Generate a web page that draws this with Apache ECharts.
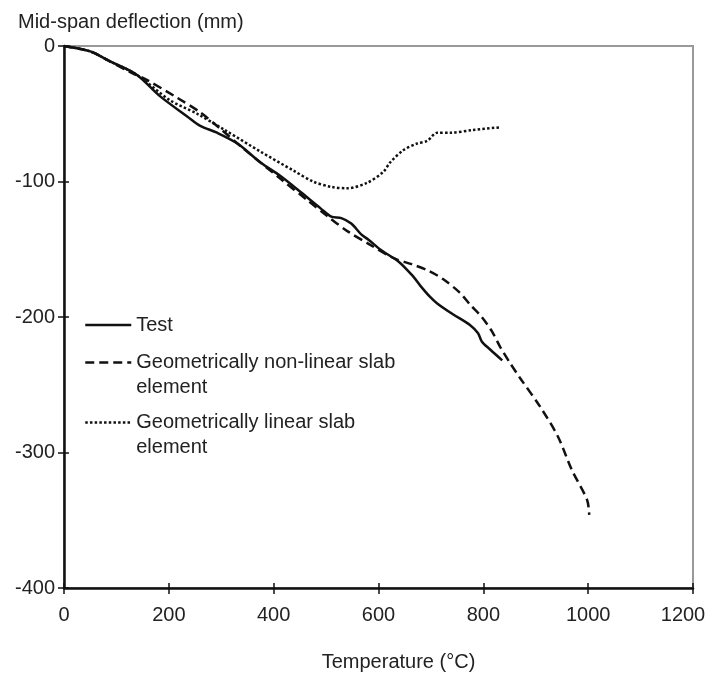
<!DOCTYPE html>
<html><head><meta charset="utf-8">
<script src="https://cdn.jsdelivr.net/npm/echarts@6/dist/echarts.min.js"></script>
<style>html,body{margin:0;padding:0;background:#fff}#c{width:709px;height:674px}</style>
</head><body><div id="c"></div>
<script>
// Data (temperature in °C, mid-span deflection in mm)
const testT = [0,50,86,138,183,235,260,292,331,375,413,452,490,510,529,548,567,581,606,638,666,680,698,712,742,775,790,797,813,836];
const testD = [0,-4,-11,-21,-37,-52,-59,-64,-72,-86,-96,-108,-120,-126,-127,-131,-139,-143,-151,-159,-170,-177,-185,-190,-198,-206,-212,-218,-224,-232];
const nonLinT = [0,50,86,130,158,215,260,298,337,413,465,504,542,581,631,663,696,723,755,775,797,817,832,851,870,908,942,969,998,1002];
const nonLinD = [0,-4,-11,-20,-25,-38,-49,-61,-74,-98,-114,-126,-137,-146,-157,-161,-166,-172,-182,-191,-200,-211,-222,-234,-245,-266,-288,-313,-335,-346];
const linT = [0,50,86,138,202,254,311,375,438,475,510,540,578,609,622,647,673,693,712,737,780,832];
const linD = [0,-4,-11,-21,-40,-50,-63,-78,-92,-100,-104,-105,-101,-93,-86,-77,-72,-70,-64,-64,-62,-60];
const xTicks = {min:0, max:1200, interval:200};
const yTicks = {min:-400, max:0, interval:100};
const names = ['Test', 'Geometrically non-linear slab\nelement', 'Geometrically linear slab\nelement'];

const zip = (a,b) => a.map((v,i)=>[v,b[i]]);
const FONT = '"Liberation Sans", Arial, Helvetica, sans-serif';
const TXT = '#222';
const chart = echarts.init(document.getElementById('c'), null, {renderer:'canvas'});

const baseX = {type:'value', min:xTicks.min, max:xTicks.max, interval:xTicks.interval, gridIndex:0};
const baseY = {type:'value', min:yTicks.min, max:yTicks.max, interval:yTicks.interval, gridIndex:0};

const legendCommon = {
  orient:'vertical', left:84, padding:0, itemWidth:46, itemHeight:14,
  lineStyle:{width:2.5},
  itemStyle:{opacity:0, color:'transparent', borderWidth:0},
  textStyle:{fontFamily:FONT, fontSize:20, color:TXT, lineHeight:25}
};
// multi-line entries: a blank first line keeps the icon level with the first text line
const firstLineAligned = n => n.indexOf('\n') >= 0 ? '\n' + n : n;

chart.setOption({
  animation:false,
  backgroundColor:'#fff',
  title:{text:'Mid-span deflection (mm)', left:13, top:7,
    textStyle:{fontFamily:FONT, fontSize:20, fontWeight:'normal', color:TXT}},
  grid:{left:64, right:16, top:46, bottom:86, show:true, borderColor:'#999', borderWidth:2,
    backgroundColor:'transparent', containLabel:false, outerBoundsMode:'none'},
  legend:[
    Object.assign({}, legendCommon, {data:[names[0]], top:312.5}),
    Object.assign({}, legendCommon, {data:[names[1]], top:325, formatter:firstLineAligned}),
    Object.assign({}, legendCommon, {data:[names[2]], top:385, formatter:firstLineAligned})
  ],
  xAxis:[
    Object.assign({}, baseX, {
      position:'bottom',
      name:'Temperature (°C)', nameLocation:'middle', nameGap:64,
      nameTextStyle:{fontFamily:FONT, fontSize:20, color:TXT, padding:[0,0,0,40]},
      axisLine:{show:true, onZero:false, lineStyle:{color:'#111', width:2.5}},
      axisTick:{show:true, inside:false, length:6, lineStyle:{color:'#111', width:1.5}},
      axisLabel:{fontFamily:FONT, fontSize:20, color:TXT, margin:17,
        formatter:v => v === xTicks.max ? '{last|' + v + '}' : String(v),
        rich:{last:{fontFamily:FONT, fontSize:20, color:TXT, padding:[0,20,0,0]}}},
      splitLine:{show:false}
    }),
    Object.assign({}, baseX, {
      position:'bottom', axisLine:{show:false, onZero:false},
      axisTick:{show:true, inside:true, length:5, lineStyle:{color:'#111', width:1.5}},
      axisLabel:{show:false}, splitLine:{show:false}
    })
  ],
  yAxis:[
    Object.assign({}, baseY, {
      position:'left',
      axisLine:{show:true, onZero:false, lineStyle:{color:'#111', width:2.5}},
      axisTick:{show:true, inside:false, length:6, lineStyle:{color:'#111', width:1.5}},
      axisLabel:{fontFamily:FONT, fontSize:20, color:TXT, margin:9, formatter:v => String(v)},
      splitLine:{show:false}
    }),
    Object.assign({}, baseY, {
      position:'left', axisLine:{show:false, onZero:false},
      axisTick:{show:true, inside:true, length:5, lineStyle:{color:'#111', width:1.5}},
      axisLabel:{show:false}, splitLine:{show:false}
    })
  ],
  series:[
    {name:names[0], type:'line', data:zip(testT,testD), symbol:'none', smooth:0.3,
      lineStyle:{color:'#111', width:2.5, type:'solid'}, itemStyle:{color:'#111'}, z:5},
    {name:names[1], type:'line', data:zip(nonLinT,nonLinD), symbol:'none', smooth:0.3,
      lineStyle:{color:'#111', width:2.5, type:[9,5]}, itemStyle:{color:'#111'}, z:4},
    {name:names[2], type:'line', data:zip(linT,linD), symbol:'none', smooth:0.3,
      lineStyle:{color:'#111', width:2.5, type:[2.5,2.2]}, itemStyle:{color:'#111'}, z:3}
  ]
});
</script>
</body></html>
